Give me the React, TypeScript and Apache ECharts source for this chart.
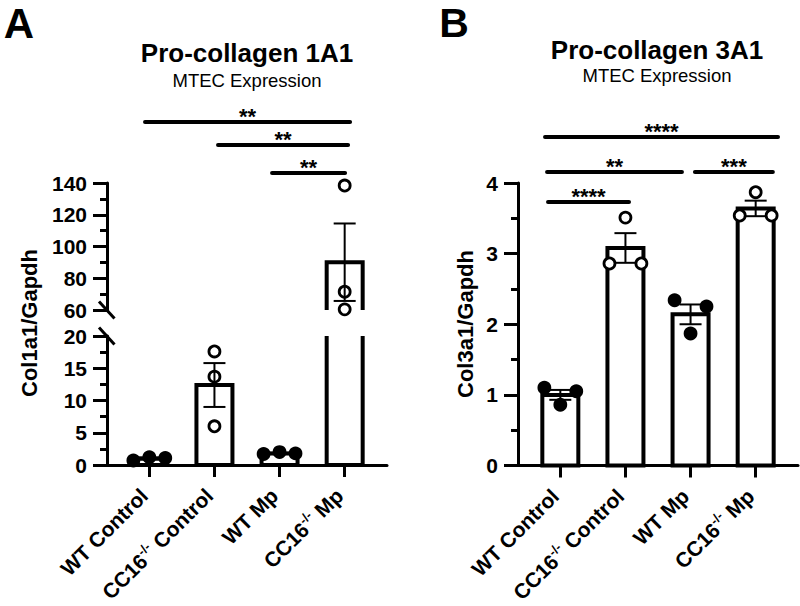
import React, { useEffect, useRef } from 'react';
import * as echarts from 'echarts';

// ---------------- data ----------------
const categories = ['WT Control', 'CC16-/- Control', 'WT Mp', 'CC16-/- Mp'];
const filledGroups = [true, false, true, false];

const col1a1Points = [
  [0.7, 1.2, 1.1],
  [17.6, 13.7, 6.0],
  [1.7, 2.0, 1.8],
  [138.4, 71.5, 60.4],
];
const col1a1Mean = [1.0, 12.4, 1.8, 90.1];
const col1a1Sem = [0.15, 3.4, 0.1, 24.4];

const col3a1Points = [
  [1.1, 0.86, 1.05],
  [2.86, 3.51, 2.86],
  [2.34, 1.87, 2.25],
  [3.54, 3.87, 3.54],
];
const col3a1Mean = [1.0, 3.08, 2.14, 3.64];
const col3a1Sem = [0.07, 0.21, 0.14, 0.11];

// axis ranges [min, max, interval]
const yAUpper = [60, 140, 20];
const yALower = [0, 20, 5];
const yB = [0, 4, 1];

const sigA = [
  { from: 0, to: 3, label: '**' },
  { from: 1, to: 3, label: '**' },
  { from: 2, to: 3, label: '**' },
];
const sigB = [
  { from: 0, to: 3, label: '****' },
  { from: 0, to: 2, label: '**' },
  { from: 2, to: 3, label: '***' },
  { from: 0, to: 1, label: '****' },
];

// ---------------- layout / style ----------------
const FONT = "'Liberation Sans', Arial, Helvetica, sans-serif";
const jitterA = [[-1, 0, 1], [0, 0, 0], [-1, 0, 1], [0, 0, 0]];
const jitterB = [[-1, 0, 1], [-1, 0, 1], [-1, 0, 1], [-1, 0, 1]];
const JIT = 0.245;
const BAR_HALF = 18;
const CAP_HALF = 11;
const LABEL_SHIFT = -0.08;
const sigLayoutA = [
  { y: 122, d0: -0.066, d1: 0.083 },
  { y: 145, d0: 0.055, d1: 0.052 },
  { y: 173, d0: -0.115, d1: 0.006 },
];
const sigLayoutB = [
  { y: 137, d0: -0.235, d1: 0.343 },
  { y: 172, d0: -0.204, d1: -0.132 },
  { y: 172, d0: 0.067, d1: 0.264 },
  { y: 202, d0: -0.189, d1: 0.055 },
];

const supLabel = (s: string) => {
  const i = s.indexOf('-/-');
  if (i < 0) return '{n|' + s + '}';
  return '{n|' + s.slice(0, i) + '}{s|-/-}{n|' + s.slice(i + 3) + '}';
};

const axisLineStyle = { color: '#000', width: 3 };

const makeX = (gridIndex: number, show: boolean) => ({
  type: 'value',
  gridIndex,
  min: -0.65,
  max: 3.65,
  axisLine: { show, onZero: false, lineStyle: axisLineStyle },
  axisTick: { show, customValues: [0, 1, 2, 3], length: 12, lineStyle: { color: '#000', width: 3 } },
  axisLabel: {
    show,
    customValues: [0, 1, 2, 3].map((v) => v + LABEL_SHIFT),
    rotate: 45,
    margin: 27,
    formatter: (v: number) => supLabel(categories[Math.round(v - LABEL_SHIFT)] || ''),
    rich: {
      n: { fontSize: 21, fontWeight: 'bold', color: '#000', fontFamily: FONT, lineHeight: 25 },
      s: { fontSize: 13, fontWeight: 'bold', color: '#000', fontFamily: FONT, verticalAlign: 'top', lineHeight: 25 },
    },
  },
  splitLine: { show: false },
});

const makeY = (gridIndex: number, r: number[]) => ({
  type: 'value',
  gridIndex,
  min: r[0],
  max: r[1],
  interval: r[2],
  axisLine: { show: true, onZero: false, lineStyle: axisLineStyle },
  axisTick: { show: true, length: 14, lineStyle: { color: '#000', width: 3 } },
  minorTick: { show: true, splitNumber: 2, length: 7, lineStyle: { color: '#000', width: 3 } },
  axisLabel: { fontSize: 21, fontWeight: 'bold', color: '#000', margin: 20, fontFamily: FONT },
  splitLine: { show: false },
  minorSplitLine: { show: false },
});

const barRender = (yMin: number, yMax: number) => (params: any, api: any) => {
  const c = api.value(0);
  const v = api.value(1);
  if (v <= yMin) return null;
  const top = Math.min(v, yMax);
  const bot = Math.max(0, yMin);
  const pT = api.coord([c, top]);
  const pB = api.coord([c, bot]);
  const x0 = pT[0] - BAR_HALF;
  const x1 = pT[0] + BAR_HALF;
  const yt = pT[1];
  const yb = pB[1];
  const drawTop = v <= yMax;
  const drawBot = yMin <= 0;
  const stroke = { fill: 'none', stroke: '#000', lineWidth: 4, lineJoin: 'miter' };
  const children: any[] = [
    { type: 'rect', shape: { x: x0, y: yt, width: x1 - x0, height: yb - yt }, style: { fill: '#fff' } },
  ];
  if (drawTop && drawBot) {
    children.push({ type: 'polygon', shape: { points: [[x0, yb], [x0, yt], [x1, yt], [x1, yb]] }, style: stroke });
  } else if (drawTop) {
    children.push({ type: 'polyline', shape: { points: [[x0, yb], [x0, yt], [x1, yt], [x1, yb]] }, style: stroke });
  } else if (drawBot) {
    children.push({ type: 'polyline', shape: { points: [[x0, yt], [x0, yb], [x1, yb], [x1, yt]] }, style: stroke });
  } else {
    children.push({ type: 'line', shape: { x1: x0, y1: yt, x2: x0, y2: yb }, style: stroke });
    children.push({ type: 'line', shape: { x1: x1, y1: yt, x2: x1, y2: yb }, style: stroke });
  }
  return { type: 'group', children };
};

const errRender = (yMin: number, yMax: number) => (params: any, api: any) => {
  const c = api.value(0);
  const m = api.value(1);
  const s = api.value(2);
  const lo = m - s;
  const hi = m + s;
  if (hi < yMin || lo > yMax) return null;
  const a = api.coord([c, Math.max(lo, yMin)]);
  const b = api.coord([c, Math.min(hi, yMax)]);
  const st = { stroke: '#000', lineWidth: 2 };
  const children: any[] = [{ type: 'line', shape: { x1: a[0], y1: a[1], x2: b[0], y2: b[1] }, style: st }];
  if (hi <= yMax) children.push({ type: 'line', shape: { x1: b[0] - CAP_HALF, y1: b[1], x2: b[0] + CAP_HALF, y2: b[1] }, style: st });
  if (lo >= yMin) children.push({ type: 'line', shape: { x1: a[0] - CAP_HALF, y1: a[1], x2: a[0] + CAP_HALF, y2: a[1] }, style: st });
  return { type: 'group', children };
};

const scatterData = (pts: number[][], jit: number[][], r: number[]) => {
  const out: any[] = [];
  pts.forEach((g, gi) =>
    g.forEach((v, i) => {
      if (v >= r[0] - 1e-9 && v <= r[1] + 1e-9) {
        out.push({
          value: [gi + jit[gi][i] * JIT, v],
          itemStyle: { color: filledGroups[gi] ? '#000' : '#fff' },
        });
      }
    })
  );
  return out;
};

const barData = (means: number[]) => means.map((m, i) => [i, m]);
const errData = (means: number[], sems: number[]) => means.map((m, i) => [i, m, sems[i]]);

const seriesFor = (gi: number, r: number[], pts: number[][], jit: number[][], means: number[], sems: number[]) => [
  {
    type: 'custom',
    xAxisIndex: gi,
    yAxisIndex: gi,
    renderItem: barRender(r[0], r[1]),
    data: barData(means),
    encode: { x: 0, y: 1 },
    z: 2,
    silent: true,
  },
  {
    type: 'scatter',
    xAxisIndex: gi,
    yAxisIndex: gi,
    data: scatterData(pts, jit, r),
    symbol: 'circle',
    symbolSize: 11,
    itemStyle: { borderColor: '#000', borderWidth: 2.8, opacity: 1 },
    z: 3,
    clip: false,
    silent: true,
  },
  {
    type: 'custom',
    xAxisIndex: gi,
    yAxisIndex: gi,
    renderItem: errRender(r[0], r[1]),
    data: errData(means, sems),
    encode: { x: 0, y: 1 },
    z: 4,
    silent: true,
  },
];

const txt = (x: number, y: number, text: string, size: number, bold: boolean, rotation = 0) => ({
  type: 'text',
  x,
  y,
  rotation,
  style: {
    text,
    fontSize: size,
    fontWeight: bold ? 'bold' : 'normal',
    fontFamily: FONT,
    fill: '#000',
    align: 'center',
    verticalAlign: 'middle',
    textAlign: 'center',
    textVerticalAlign: 'middle',
  },
});

export default function App() {
  const ref = useRef<HTMLDivElement>(null);
  useEffect(() => {
    if (!ref.current) return;
    const chart = echarts.init(ref.current, null, { renderer: 'svg' });
    const option: any = {
      animation: false,
      backgroundColor: '#fff',
      grid: [
        { left: 107, top: 183, width: 280, height: 127 },
        { left: 107, top: 336, width: 280, height: 129 },
        { left: 518, top: 183, width: 280, height: 282.5 },
      ],
      xAxis: [makeX(0, false), makeX(1, true), makeX(2, true)],
      yAxis: [makeY(0, yAUpper), makeY(1, yALower), makeY(2, yB)],
      series: [
        ...seriesFor(0, yAUpper, col1a1Points, jitterA, col1a1Mean, col1a1Sem),
        ...seriesFor(1, yALower, col1a1Points, jitterA, col1a1Mean, col1a1Sem),
        ...seriesFor(2, yB, col3a1Points, jitterB, col3a1Mean, col3a1Sem),
      ],
    };
    chart.setOption(option);

    const graphics: any[] = [];
    graphics.push(txt(19, 23, 'A', 42, true));
    graphics.push(txt(454, 23, 'B', 41, true));
    graphics.push(txt(247, 53, 'Pro-collagen 1A1', 26, true));
    graphics.push(txt(247, 80, 'MTEC Expression', 18.5, false));
    graphics.push(txt(657, 50, 'Pro-collagen 3A1', 26, true));
    graphics.push(txt(657, 75, 'MTEC Expression', 18.5, false));
    graphics.push(txt(29, 323, 'Col1a1/Gapdh', 22, true, Math.PI / 2));
    graphics.push(txt(465, 324, 'Col3a1/Gapdh', 22, true, Math.PI / 2));

    // axis break marks
    const axX = chart.convertToPixel({ xAxisIndex: 1 }, -0.65) as number;
    const yBreak1 = chart.convertToPixel({ yAxisIndex: 0 }, yAUpper[0]) as number;
    const yBreak2 = chart.convertToPixel({ yAxisIndex: 1 }, yALower[1]) as number;
    [yBreak1, yBreak2].forEach((yy) => {
      graphics.push({
        type: 'line',
        shape: { x1: axX - 8, y1: yy - 8.5, x2: axX + 7.5, y2: yy + 8.5 },
        style: { stroke: '#000', lineWidth: 3 },
      });
    });

    const addSig = (sig: any[], lay: any[], xi: number) => {
      sig.forEach((s, i) => {
        const L = lay[i];
        const xa = chart.convertToPixel({ xAxisIndex: xi }, s.from + L.d0) as number;
        const xb = chart.convertToPixel({ xAxisIndex: xi }, s.to + L.d1) as number;
        graphics.push({
          type: 'line',
          shape: { x1: xa, y1: L.y, x2: xb, y2: L.y },
          style: { stroke: '#000', lineWidth: 4, lineCap: 'round' },
        });
        graphics.push(txt((xa + xb) / 2, L.y - 6, s.label, 22, true));
      });
    };
    addSig(sigA, sigLayoutA, 1);
    addSig(sigB, sigLayoutB, 2);

    chart.setOption({ graphic: graphics });
    return () => chart.dispose();
  }, []);
  return <div ref={ref} style={{ position: 'absolute', left: 0, top: 0, width: 800, height: 606 }} />;
}
